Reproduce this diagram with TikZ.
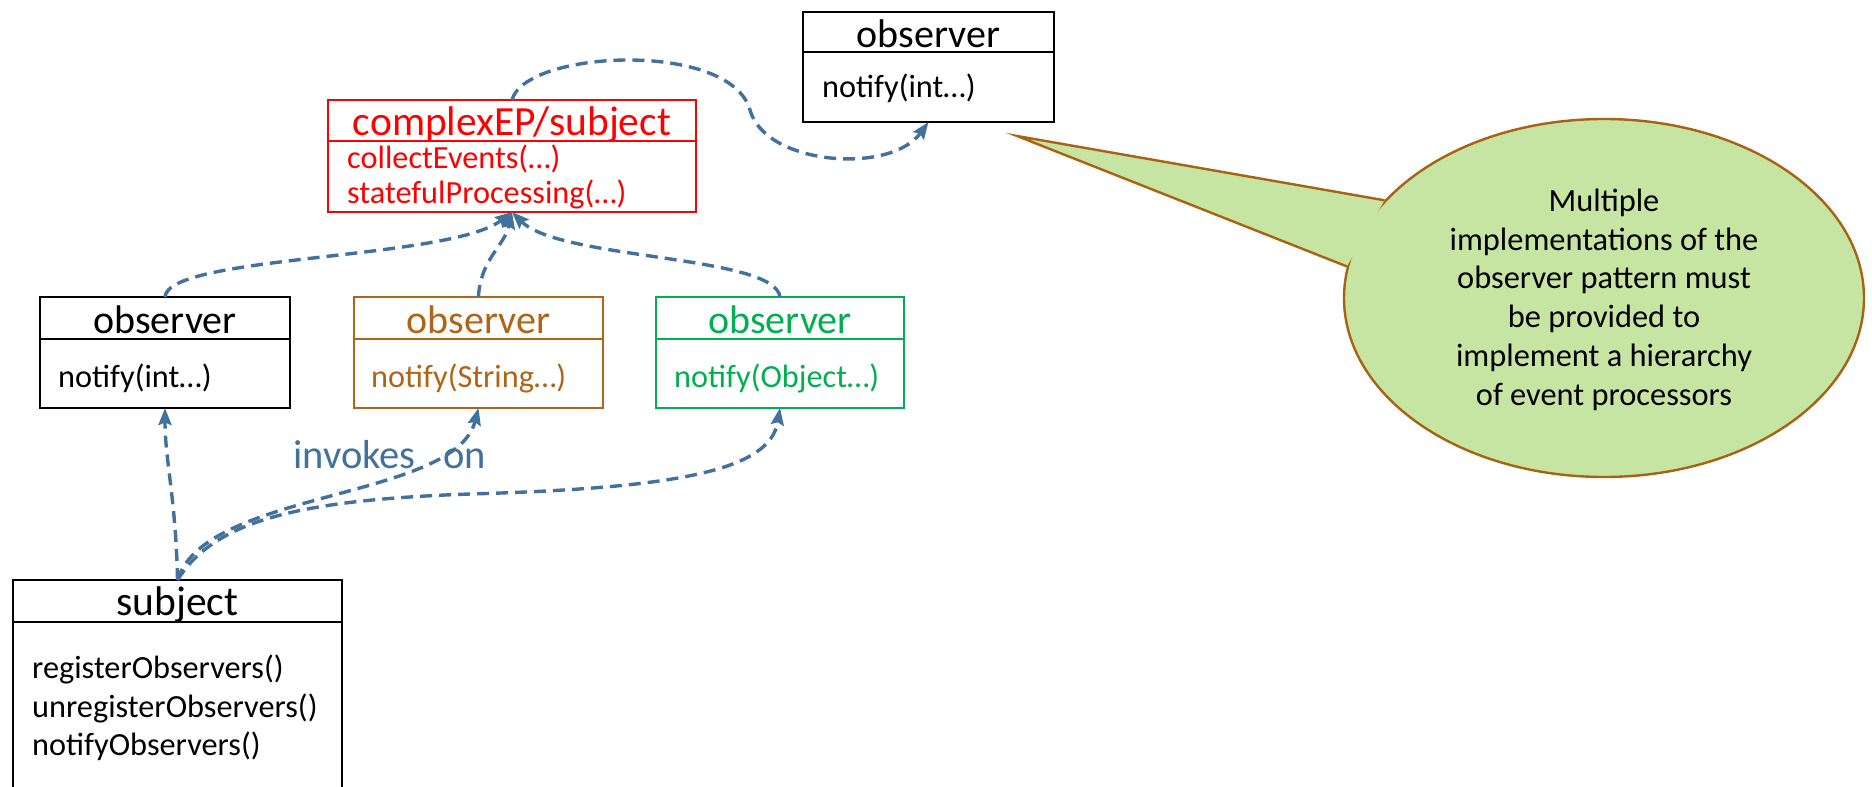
\documentclass[tikz,border=0pt]{standalone}
\usepackage{fontspec}
\setmainfont{Carlito}
\usetikzlibrary{arrows.meta,calc,shapes.geometric}

\definecolor{linkblue}{RGB}{65,113,156}
\definecolor{umlred}{RGB}{255,0,0}
\definecolor{umlbrown}{RGB}{178,100,22}
\definecolor{umlgreen}{RGB}{0,176,80}
\definecolor{notefill}{RGB}{198,228,162}
\definecolor{noteline}{RGB}{168,98,18}

\begin{document}
\begin{tikzpicture}[x=1pt,y=-1pt,
  classbox/.style={draw, line width=2.8pt, inner sep=0pt, outer sep=0pt, anchor=north west},
  divider/.style={line width=2.8pt},
  headtext/.style={anchor=base, inner sep=0pt, font=\fontsize{40}{48}\selectfont},
  optext/.style={anchor=base west, inner sep=0pt, font=\fontsize{32.3}{38}\selectfont},
  link/.style={draw=linkblue, line width=3.4pt, dash pattern=on 12pt off 7pt,
    arrows={-Stealth[length=17pt,width=13pt,inset=2.5pt]}},
]
\useasboundingbox (0,0) rectangle (1872,787);
\clip (0,0) rectangle (1872,787);

% ---------- callout ----------
\node[ellipse, draw=noteline, fill=notefill, line width=2.4pt,
      minimum width=520pt, minimum height=358pt, inner sep=0pt] (bubble) at (1604,298) {};
\coordinate (tip) at (1017,136);
\fill[notefill] (tip) -- (bubble.156) -- (bubble.173) -- cycle;
\draw[noteline, line width=2.4pt, line join=miter] (bubble.173) -- (tip) -- (bubble.156);
\node[anchor=base, align=center, inner sep=0pt, font=\fontsize{32.4}{38.7}\selectfont] (notetext) at (1604,405)
  {Multiple\\implementations of the\\observer pattern must\\be provided to\\implement a hierarchy\\of event processors};

% ---------- classes ----------
% top observer
\node[classbox, minimum width=251pt, minimum height=110pt] (obsTop) at (803,12) {};
\draw[divider] ($(obsTop.north west)+(0,40)$) -- ($(obsTop.north east)+(0,40)$);
\node[headtext] (obsTopName) at (928.5,47) {observer};
\node[optext] (obsTopOp) at (822,97) {notify(int…)};

% complex event processor / subject
\node[classbox, draw=umlred, minimum width=368pt, minimum height=112pt] (cep) at (328,100) {};
\draw[divider, umlred] ($(cep.north west)+(0,41)$) -- ($(cep.north east)+(0,41)$);
\node[headtext, text=umlred, font=\fontsize{41.5}{48}\selectfont] (cepName) at (512,135) {complexEP/subject};
\node[optext, text=umlred] (cepOpA) at (347,168) {collectEvents(…)};
\node[optext, text=umlred] (cepOpB) at (347,203) {statefulProcessing(…)};

% observer (int)
\node[classbox, minimum width=250pt, minimum height=111pt] (obsA) at (40,297) {};
\draw[divider] ($(obsA.north west)+(0,42)$) -- ($(obsA.north east)+(0,42)$);
\node[headtext] (obsAName) at (165,333) {observer};
\node[optext] (obsAOp) at (58,387) {notify(int…)};

% observer (String)
\node[classbox, draw=umlbrown, minimum width=249pt, minimum height=111pt] (obsB) at (354,297) {};
\draw[divider, umlbrown] ($(obsB.north west)+(0,42)$) -- ($(obsB.north east)+(0,42)$);
\node[headtext, text=umlbrown] (obsBName) at (478.5,333) {observer};
\node[optext, text=umlbrown] (obsBOp) at (371,387) {notify(String…)};

% observer (Object)
\node[classbox, draw=umlgreen, minimum width=248pt, minimum height=111pt] (obsC) at (656,297) {};
\draw[divider, umlgreen] ($(obsC.north west)+(0,42)$) -- ($(obsC.north east)+(0,42)$);
\node[headtext, text=umlgreen] (obsCName) at (780,333) {observer};
\node[optext, text=umlgreen] (obsCOp) at (674,387) {notify(Object…)};

% subject
\node[classbox, minimum width=329pt, minimum height=240pt] (subj) at (13,580) {};
\draw[divider] ($(subj.north west)+(0,42)$) -- ($(subj.north east)+(0,42)$);
\node[headtext, font=\fontsize{41.5}{48}\selectfont] (subjName) at (177.5,615) {subject};
\node[optext] (subjOpA) at (32,678) {registerObservers()};
\node[optext] (subjOpB) at (32,717) {unregisterObservers()};
\node[optext] (subjOpC) at (32,755) {notifyObservers()};

% ---------- connectors ----------
\draw[link] (cep.north) .. controls (525,50) and (730,40) .. (750,110)
  .. controls (765,165) and (890,175) .. (obsTop.south);

\draw[link] (obsA.north) .. controls (168,255) and (450,260) .. (cep.south);
\draw[link] (obsB.north) .. controls (480,260) and (505,245) .. (cep.south);
\draw[link] (obsC.north) .. controls (775,255) and (560,260) .. (cep.south);

\draw[link] (subj.north) .. controls (176,500) and (165,460) .. (obsA.south);
\draw[link] (subj.north) .. controls (205,490) and (455,500) .. (obsB.south);
\draw[link] (subj.north) .. controls (215,520) and (300,500) .. (470,494)
  .. controls (680,488) and (770,470) .. (obsC.south);

\node[anchor=base west, inner sep=0pt, text=linkblue, font=\fontsize{40.5}{48}\selectfont] (invokes) at (293,468)
  {invokes\hspace{19pt} on};
\end{tikzpicture}
\end{document}
